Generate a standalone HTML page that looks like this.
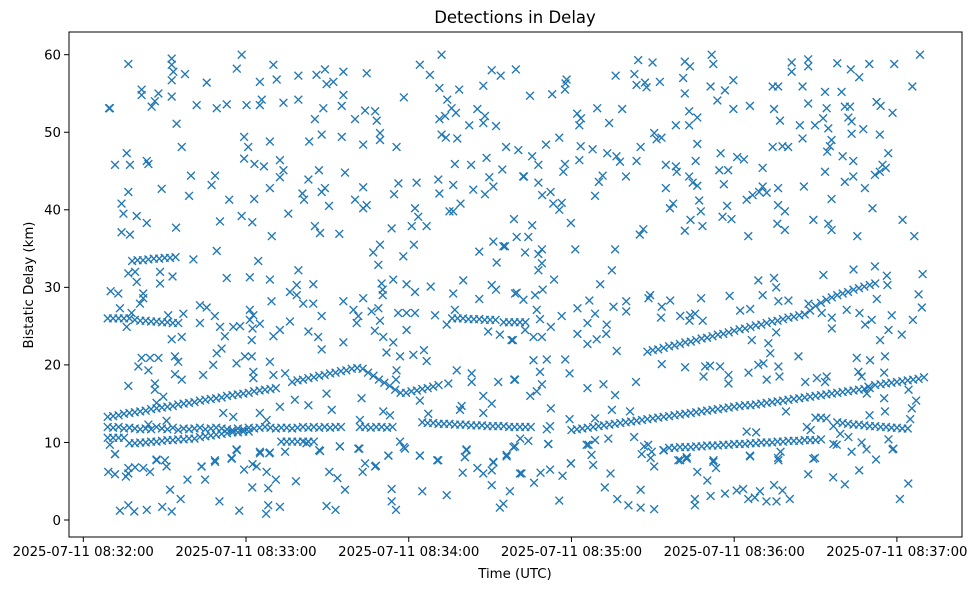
<!DOCTYPE html>
<html><head><meta charset="utf-8">
<style>
html,body{margin:0;padding:0;background:#fff;}
svg{display:block;font-family:"DejaVu Sans","Liberation Sans",sans-serif;}
</style></head>
<body>
<svg id="chart" width="979" height="590" viewBox="0 0 979 590"></svg>
<script>
// time in seconds after 2025-07-11 08:32:00 UTC, delay in km
const xTickSeconds = [0, 60, 120, 180, 240, 300];
const xTickLabels = ["2025-07-11 08:32:00","2025-07-11 08:33:00","2025-07-11 08:34:00","2025-07-11 08:35:00","2025-07-11 08:36:00","2025-07-11 08:37:00"];
const yTicks = [0, 10, 20, 30, 40, 50, 60];

// track A (rising)
const trackA1T = [9,11,13,15,17,19,21,23,25,27,29,31,33,35,37,39,41,43,45,47,49,51,53,55,57,59,61,63,65,67,69,71];
const trackA1D = [13.3,13.4,13.5,13.7,13.8,13.9,14.0,14.1,14.3,14.4,14.5,14.6,14.7,14.9,15.0,15.1,15.2,15.4,15.5,15.6,15.7,15.8,16.0,16.1,16.2,16.3,16.4,16.6,16.7,16.8,16.9,17.0];
const trackA2T = [77,79,81,83,85,87,89,91,93,95,97,99,101];
const trackA2D = [17.8,18.0,18.1,18.3,18.4,18.6,18.7,18.9,19.0,19.2,19.3,19.5,19.6];
const trackA3T = [103,105,107,109,111,113,115,117];
const trackA3D = [19.5,19.0,18.6,18.1,17.7,17.3,16.8,16.4];
const trackA4T = [119,121,123,125,127,129,131];
const trackA4D = [16.4,16.6,16.7,16.9,17.0,17.2,17.4];
// lower main rising track
const trackLT = [180,182,184,186,188,190,192,194,196,198,200,202,204,206,208,210,212,214,216,218,220,222,224,226,228,230,232,234,236,238,240,242,244,246,248,250,252,254,256,258,260,262,264,266,268,270,272,274,276,278,280,282,284,286,288,290,292,294,296,298,300,302,304,306,308,310];
const trackLD = [11.6,11.7,11.8,11.9,12.0,12.1,12.2,12.3,12.4,12.5,12.6,12.7,12.8,12.9,13.0,13.1,13.2,13.3,13.4,13.5,13.6,13.7,13.8,13.9,14.0,14.1,14.2,14.3,14.4,14.5,14.6,14.7,14.8,14.8,14.9,15.0,15.1,15.2,15.3,15.4,15.5,15.6,15.7,15.8,15.9,16.0,16.1,16.2,16.3,16.4,16.5,16.6,16.7,16.8,16.9,17.0,17.4,17.5,17.6,17.7,17.8,17.9,18.0,18.1,18.2,18.4];
// ~12 km tracks
const trackB1T = [9,11,13,15,17,19,21,23,25,27,29,31,33,35,37,39,41,43,45,47,49,51,53,55,57,59,61,63,65,67,69,71,73,75,77,79,81,83,85,87,89,91,93,95];
const trackB1D = [12.0,11.9,12.0,11.8,11.9,11.8,11.7,11.8,11.7,12.0,11.8,11.7,11.9,11.6,11.8,11.7,11.8,11.9,11.7,11.8,11.9,11.8,11.7,11.6,11.8,11.7,11.9,11.8,11.9,12.0,11.9,11.8,11.9,11.9,11.8,11.9,12.0,11.9,12.0,11.9,12.0,11.9,12.0,12.0];
const trackB3T = [102,104,106,108,110,112,114];
const trackB3D = [12.0,12.0,11.9,12.0,12.0,11.9,12.0];
const trackB4T = [125,127,129,131,133,135,137,139,141,143,145,147,149,151,153,155,157,159,161,163,165];
const trackB4D = [12.6,12.5,12.5,12.4,12.4,12.4,12.3,12.3,12.3,12.2,12.2,12.2,12.1,12.1,12.1,12.1,12.0,12.0,12.0,12.0,12.0];
const trackB5T = [270,272,274,278,280,282,284,286,288,290,292,294,296,298,300,302,304];
const trackB5D = [13.2,13.2,13.1,12.6,12.5,12.4,12.3,12.3,12.2,12.1,12.1,12.0,12.0,11.9,11.9,11.8,11.8];
// ~10 km tracks
const trackCT = [9,11,13,15,17,19,21,23,25,27,29,31,33,35,37,39,41,43,45,47,49,51,53,55,57,59,61,73,75,77,79,81,83,85];
const trackCD = [10.6,10.6,10.6,10.6,9.9,9.9,10.0,10.0,10.1,10.1,10.2,10.3,10.3,10.4,10.4,10.5,10.5,10.7,10.8,10.9,11.0,11.1,11.2,11.3,11.3,11.4,11.4,10.1,10.1,10.1,10.1,10.1,10.1,10.1];
const trackDT = [216,218,220,222,224,226,228,230,232,234,236,238,240,242,244,246,248,250,252,254,256,258,260,262,264,266,268,270,272];
const trackDD = [9.3,9.3,9.4,9.4,9.4,9.5,9.5,9.6,9.6,9.6,9.7,9.7,9.8,9.8,9.8,9.9,9.9,10.0,10.0,10.0,10.1,10.1,10.2,10.2,10.2,10.3,10.3,10.3,10.4];
// ~26 and ~33 km tracks
const trackET = [9,11,13,15,17,19,21,23,25,27,29,31,33,35];
const trackED = [26.0,26.0,26.0,26.0,26.0,25.8,25.7,25.7,25.6,25.6,25.5,25.5,25.4,25.4];
const trackFT = [18,20,22,24,26,28,30,32,34];
const trackFD = [33.4,33.5,33.5,33.6,33.7,33.7,33.8,33.8,33.9];
const trackGT = [136,138,140,142,144,146,148,150,152,155,157,159,161,163];
const trackGD = [26.0,26.0,26.0,25.9,25.9,25.9,25.8,25.8,25.8,25.5,25.5,25.5,25.5,25.5];
const trackHT = [208,210,212,214,216,218,220,222,224,226,228,230,232,234,236,238,240,242,244,246,248,250,252,254,256,258,260,262,264,266,268,270,272,274,276,278,280,282,284,286,288,290,292];
const trackHD = [21.7,21.9,22.0,22.2,22.4,22.5,22.7,22.9,23.0,23.2,23.4,23.5,23.7,23.9,24.0,24.2,24.4,24.6,24.7,24.9,25.1,25.2,25.4,25.6,25.7,25.9,26.1,26.2,26.4,26.5,27.0,27.6,28.0,28.4,28.7,29.0,29.2,29.4,29.7,29.9,30.1,30.3,30.5];

// scattered detections
const noiseT = [16.6,32.6,32.6,33.2,37.5,58.4,56.6,70.1,45.5,65.1,71.3,79.3,86.0,89.1,95.9,89.7,92.2,104.5,32.6,21.5,21.5,27.7,32.6,26.4,25.2,9.8,41.8,49.2,52.9,60.2,65.1,65.8,73.8,79.3,88.5,95.3,95.9,85.4,100.2,103.9,107.6,108.2,109.4,109.4,115.5,103.2,95.3,87.9,83.3,68.8,60.8,59.3,34.4,36.3,16.0,11.7,17.2,23.4,24.0,16.6,14.1,14.8,19.7,23.4,14.1,17.2,28.9,34.2,39.7,39.0,48.6,47.3,53.8,50.4,58.4,62.3,63.0,59.3,63.1,66.6,72.5,73.8,72.5,68.8,75.6,69.5,83.0,86.9,80.8,81.4,87.9,89.1,90.6,96.5,103.2,100.2,104.5,103.2,85.4,87.3,94.4,113.7,116.2,114.6,122.9,122.3,123.5,121.1,126.6,130.9,131.3,136.4,135.0,136.4,139.1,143.8,148.1,151.2,149.7,154.5,162.2,158.8,137.0,143.0,148.7,155.9,160.4,132.1,133.7,137.9,131.3,133.4,135.8,137.4,134.2,131.3,138.6,145.3,148.1,147.5,142.3,152.2,147.5,150.6,153.9,159.5,132.1,124.1,127.8,118.2,9.5,
164.7,172.9,177.6,178.2,177.8,182.1,183.5,182.9,189.5,193.9,198.7,196.3,203.2,204.6,209.9,204.0,207.1,207.7,212.6,221.2,221.8,223.7,231.7,232.3,221.8,231.3,236.6,233.8,239.7,239.7,245.8,223.4,226.4,223.4,218.5,210.5,211.4,213.2,205.5,204.0,197.9,196.6,193.2,187.8,183.4,182.9,177.6,177.0,175.5,170.6,165.5,167.8,162.5,167.8,169.2,172.3,173.3,175.5,176.4,165.5,179.8,190.1,191.5,188.7,200.1,214.8,218.5,218.8,225.8,226.4,223.4,224.7,226.4,214.8,217.5,216.3,227.1,227.7,223.9,228.3,221.8,206.5,205.2,235.0,234.5,237.8,236.2,237.4,235.7,239.0,241.1,243.6,244.6,246.8,249.2,250.5,252.0,250.5,256.2,256.2,258.7,255.9,258.7,245.2,254.2,257.8,259.9,265.2,264.2,269.8,272.8,274.7,256.9,254.7,267.3,274.1,280.8,282.7,282.1,283.3,283.3,287.6,293.7,275.9,275.3,274.3,280.0,283.9,296.8,294.7,295.9,291.9,293.7,283.9,280.8,288.2,273.5,265.7,275.9,291.0,302.1,269.2,274.7,275.9,285.4,306.4,254.2,256.2,265.2,273.5,279.6,261.2,261.2,267.3,267.3,278.0,283.0,286.1,289.8,299.0,308.5,305.7,292.5,294.0,298.4,
11.7,9.2,11.7,15.7,16.6,19.1,22.1,24.6,27.0,30.1,30.7,32.0,35.9,38.4,43.6,44.9,48.6,50.2,54.7,56.6,59.3,62.4,63.9,67.6,65.2,68.6,71.0,62.3,68.2,68.2,67.4,72.5,57.5,13.5,16.6,18.8,23.4,29.1,32.6,78.4,87.0,94.6,101.8,90.7,93.7,96.5,89.7,93.0,103.9,103.0,107.9,112.5,118.2,124.1,130.5,141.3,140.7,139.9,145.3,147.5,150.6,151.2,150.6,156.1,158.6,161.0,157.3,154.9,153.6,113.7,113.7,115.3,125.0,134.0,
171.4,161.6,166.2,168.6,172.1,176.7,179.8,175.5,185.6,187.4,188.0,194.4,192.3,196.9,201.0,205.5,205.5,210.5,205.9,208.3,209.2,210.5,214.1,219.4,222.5,226.4,230.1,232.3,233.3,225.5,225.5,231.3,236.6,240.9,243.3,245.2,247.6,249.5,251.9,255.6,254.7,257.8,260.5,245.8,256.2,257.1,269.8,267.3,276.5,280.8,286.1,283.3,288.8,292.3,298.4,277.8,304.2,301.1,
40.6,49.2,64.5,52.9,61.4,68.8,16.6,19.1,19.7,28.3,28.3,32.9,10.1,12.9,22.1,22.1,20.9,13.5,16.0,17.8,31.3,36.9,32.6,36.3,43.0,45.5,43.0,48.5,50.4,52.2,55.3,57.8,61.4,62.7,61.4,62.4,65.1,62.1,70.1,72.5,76.2,69.4,76.2,78.7,79.3,84.8,78.7,81.1,84.8,87.9,83.0,86.6,87.9,95.9,95.9,99.6,101.4,103.2,100.8,106.3,108.8,109.4,107.5,110.6,114.3,116.1,106.9,109.4,108.8,110.0,110.4,110.4,114.3,118.0,119.2,122.3,121.9,128.1,136.4,140.1,146.0,146.0,151.2,154.9,152.4,150.6,152.2,159.2,119.2,134.0,137.0,149.3,153.6,157.9,20.3,21.5,24.6,27.7,24.0,16.6,26.4,26.4,29.5,27.0,33.8,35.0,33.8,36.3,44.2,49.2,47.9,51.0,56.5,59.6,62.1,62.7,62.7,68.8,70.1,74.4,89.7,78.0,83.0,91.6,102.6,111.8,116.8,121.7,125.6,126.6,115.5,115.3,124.1,127.2,134.6,137.7,143.2,143.2,153.0,159.2,147.5,150.6,139.5,138.9,147.5,151.2,156.1,141.3,140.7,130.9,124.1,116.8,118.6,112.5,107.6,101.4,94.6,87.3,82.3,74.4,68.8,65.1,56.5,54.7,48.5,43.6,27.0,16.6,11.7,9.8,24.0,30.7,51.6,55.3,65.1,67.6,72.5,102.0,110.6,113.1,119.2,122.3,129.7,
155.5,162.9,159.8,164.1,167.8,169.1,167.8,169.1,173.6,181.4,196.1,194.9,190.6,159.8,162.3,166.6,169.4,167.2,168.4,172.4,176.4,182.2,186.6,188.7,185.9,182.2,185.9,189.3,192.8,193.0,195.5,200.2,200.2,196.7,158.4,162.9,166.0,169.1,166.0,170.9,168.4,158.9,177.7,179.3,169.1,164.8,167.2,172.4,185.9,191.8,196.1,203.8,194.9,201.6,179.3,188.7,172.1,170.9,161.1,164.1,159.2,171.5,179.8,186.3,188.7,193.6,203.1,208.4,209.0,213.3,213.0,216.4,220.1,223.8,225.6,223.5,228.4,227.8,213.3,221.9,228.7,229.3,231.1,234.8,237.9,237.9,245.3,248.9,250.8,252.0,256.3,256.7,253.3,252.6,255.5,246.5,242.2,245.9,238.3,248.9,250.5,254.7,255.5,256.3,260.0,263.7,266.2,270.5,274.1,273.5,267.4,272.9,272.3,276.0,276.0,281.5,286.2,288.3,290.7,293.8,296.9,298.1,301.8,305.9,309.2,308.0,309.5,296.3,296.5,291.9,284.0,292.6,285.2,285.8,287.0,290.1,295.6,295.3,295.3,295.6,289.5,288.9,304.3,307.1,305.5,304.9,289.9,276.6,279.1,276.6,282.1,287.0,296.9,298.7,269.2,256.3,245.9,232.4,222.5,220.1,209.6,206.8,213.9,259.1,266.8,268.2,244.6,248.1];
const noiseD = [58.8,59.5,58.7,57.8,57.5,60.0,58.2,58.7,56.4,56.5,56.8,57.3,57.4,58.1,57.8,56.2,56.5,57.6,56.7,55.5,54.8,55.0,54.6,54.0,53.3,53.1,53.5,53.1,53.6,53.5,53.5,54.2,53.8,54.2,53.1,53.4,54.8,51.7,51.7,52.8,52.7,51.5,49.9,49.0,48.1,48.4,49.4,49.7,48.8,48.8,48.1,49.4,51.1,48.1,47.3,45.8,45.8,46.3,45.9,42.3,40.8,39.5,39.2,38.3,37.1,36.8,42.7,37.7,44.4,41.8,44.4,43.2,41.3,38.5,39.2,38.4,41.4,46.6,45.9,45.6,46.4,45.1,44.2,42.8,39.5,36.6,43.9,45.1,42.1,41.3,42.3,42.8,40.5,44.8,42.9,41.3,40.6,40.2,37.9,37.0,36.9,37.6,43.4,42.0,43.5,40.2,39.1,37.9,37.9,43.9,42.1,43.2,39.8,39.8,40.8,42.6,42.0,43.0,44.2,45.2,44.3,38.8,45.9,45.8,46.7,48.1,47.7,49.7,49.3,49.2,51.7,52.1,53.1,52.5,54.2,55.7,55.5,53.0,52.1,51.2,50.9,50.8,56.0,58.0,57.3,58.1,60.0,58.7,57.4,54.5,53.1,
54.7,54.9,55.5,56.8,56.3,52.4,51.8,50.9,53.1,51.2,53.0,57.3,57.5,59.3,59.0,56.1,56.4,55.8,56.5,57.0,59.1,58.5,60.0,58.8,55.0,55.9,55.4,54.1,56.7,53.0,53.4,52.7,51.9,50.9,50.9,49.9,49.1,49.3,48.1,46.3,46.2,46.9,47.3,47.8,48.2,46.4,45.9,44.9,49.3,48.4,46.9,45.8,44.3,43.5,41.9,42.3,40.8,40.0,40.9,38.0,38.3,43.6,44.4,41.8,44.3,45.8,45.6,44.9,46.3,48.5,44.3,43.5,43.1,42.8,40.8,40.2,41.2,39.8,38.7,37.9,37.3,37.5,36.8,47.3,45.1,45.1,43.3,40.5,39.1,38.8,46.8,46.5,41.3,41.9,42.3,43.0,42.2,45.4,42.8,40.6,39.8,38.2,37.4,36.6,48.1,48.2,48.1,49.2,50.9,50.9,51.8,50.5,51.5,53.0,53.7,53.1,53.3,53.3,51.9,51.4,49.8,50.4,49.7,49.0,48.2,47.5,46.9,46.3,47.3,45.8,45.4,44.5,44.9,44.3,43.6,42.8,44.9,43.0,41.4,40.2,38.7,38.7,38.2,37.4,36.6,36.6,55.9,55.9,55.9,55.2,55.2,59.0,57.8,59.4,58.5,58.9,58.1,57.1,58.8,58.8,60.0,55.9,53.9,53.4,52.5,
8.5,6.2,5.9,5.6,6.0,6.8,6.7,6.2,7.7,7.7,6.9,3.9,2.7,5.2,6.9,5.2,7.5,2.4,8.0,9.0,6.5,7.2,6.9,6.2,8.6,8.6,5.2,4.2,4.1,1.9,0.8,1.7,1.2,1.2,1.9,1.1,1.3,1.7,1.1,5.0,9.0,9.5,9.2,6.2,5.4,3.9,1.8,1.3,7.3,6.2,7.0,8.3,9.4,8.3,7.7,9.1,8.1,6.1,6.7,6.0,6.4,7.4,4.5,8.4,9.4,6.0,3.7,2.1,1.6,4.0,2.4,1.3,3.7,3.2,
9.8,6.0,4.8,6.1,6.5,5.7,7.3,2.5,9.7,8.4,7.1,6.0,4.2,2.7,1.9,3.9,1.6,1.4,8.5,9.7,8.0,6.9,9.0,7.7,8.1,6.2,5.1,7.5,6.7,2.7,1.9,3.1,3.4,3.8,4.0,2.7,2.9,3.7,2.4,2.4,4.5,3.8,2.7,8.3,8.0,8.8,8.0,5.9,5.5,4.6,6.4,8.8,9.1,7.8,9.1,9.7,4.7,2.7,
33.6,34.7,33.4,31.2,31.3,31.0,31.8,32.0,30.7,32.0,30.5,31.4,29.5,29.2,29.2,28.6,27.9,27.3,24.9,26.7,26.4,26.6,23.3,23.6,27.7,27.4,25.4,26.3,24.9,23.7,24.9,25.0,27.1,26.4,25.8,24.7,25.3,23.2,23.7,24.5,25.6,28.2,29.4,30.3,32.2,30.4,29.0,27.9,27.9,26.3,24.3,23.6,22.0,22.9,28.2,27.1,26.3,28.6,25.4,26.9,27.3,25.7,24.4,23.6,22.9,26.7,34.5,35.5,32.9,30.5,29.7,29.0,31.0,34.0,30.4,29.4,35.5,30.1,29.2,30.9,34.6,28.5,35.9,35.3,33.2,30.3,29.7,29.2,24.5,25.2,27.1,24.3,23.9,23.2,19.8,20.9,20.9,20.9,19.3,17.3,17.6,16.8,15.9,15.1,21.1,20.4,18.8,18.1,18.7,21.5,20.0,22.1,20.2,21.1,21.1,19.1,18.3,20.4,18.7,18.9,16.3,15.5,14.8,14.2,15.7,21.6,21.1,21.3,21.9,20.5,19.3,18.1,15.4,13.7,17.6,19.3,18.9,17.8,17.8,18.1,16.0,15.0,14.7,14.2,13.8,7.5,8.2,9.0,8.1,7.7,8.3,10.1,9.2,8.3,6.9,9.2,9.5,8.9,9.9,8.8,8.7,8.8,9.1,7.9,7.7,6.9,7.8,6.7,8.5,9.7,12.3,12.8,13.8,13.3,13.8,12.9,14.6,12.9,14.0,13.5,26.7,26.7,26.4,
35.3,34.5,36.5,36.5,34.3,33.1,32.2,34.9,31.0,34.9,34.9,32.2,30.4,29.3,28.4,29.0,29.7,27.1,25.9,24.9,26.3,27.3,28.3,26.6,25.4,24.0,22.7,23.3,24.0,25.2,27.5,28.2,26.9,21.8,23.2,24.5,23.6,23.6,20.6,20.7,19.1,18.1,20.7,18.9,17.5,16.0,16.6,14.4,17.0,17.5,16.1,17.8,14.2,14.0,13.0,13.1,12.1,11.7,10.5,10.2,9.5,9.8,7.3,9.7,10.3,10.5,10.7,28.6,29.0,27.5,26.1,28.3,26.3,26.4,26.6,25.7,25.7,28.6,20.1,19.7,18.5,19.8,19.9,19.8,18.7,17.6,19.0,20.0,20.2,18.1,19.8,18.5,21.5,22.8,24.2,23.2,27.0,27.2,28.9,30.9,29.0,31.2,30.0,28.2,28.3,21.1,17.8,18.3,18.5,17.8,27.9,31.6,26.7,26.1,24.7,27.1,26.7,25.2,25.8,23.2,24.5,26.4,23.9,25.8,27.4,29.1,31.7,31.5,30.3,32.7,32.3,28.5,20.9,19.1,18.5,20.6,21.1,19.0,15.7,14.0,17.2,16.3,16.8,15.4,14.4,13.0,13.5,12.1,11.1,9.8,10.7,10.0,10.4,9.2,7.9,7.7,8.2,7.7,7.9,7.7,8.8,9.5,9.0,14.0,12.0,11.6,11.4,11.3];

const NS = "http://www.w3.org/2000/svg";
const svg = document.getElementById("chart");
const plot = {left: 69, right: 962, top: 32, bottom: 537};
function xScale(t) { return 83.3 + t * 2.712; }
function yScale(d) { return 520 - d * 7.755; }
function mk(tag, attrs, parent) {
  const el = document.createElementNS(NS, tag);
  for (const k in attrs) el.setAttribute(k, attrs[k]);
  (parent || svg).appendChild(el);
  return el;
}

const title = mk("text", {x: 515, y: 23, "text-anchor": "middle", "font-size": "16.5", fill: "#000"});
title.textContent = "Detections in Delay";



const marks = mk("g", {stroke: "#1f77b4", "stroke-width": "1.35", fill: "none"});



function drawSeries(ts, ds, name) {
  for (let i = 0; i < ts.length && i < ds.length; i++) {
    const cx = xScale(ts[i]), cy = yScale(ds[i]), r = 3.9;
    const p = mk("path", {d: `M${(cx-r).toFixed(2)},${(cy-r).toFixed(2)}L${(cx+r).toFixed(2)},${(cy+r).toFixed(2)}M${(cx-r).toFixed(2)},${(cy+r).toFixed(2)}L${(cx+r).toFixed(2)},${(cy-r).toFixed(2)}`}, marks);
    
    
  }
}
drawSeries(noiseT, noiseD, 'detection-point');
drawSeries(trackA1T, trackA1D, 'track-point');
drawSeries(trackA2T, trackA2D, 'track-point');
drawSeries(trackA3T, trackA3D, 'track-point');
drawSeries(trackA4T, trackA4D, 'track-point');
drawSeries(trackLT, trackLD, 'track-point');
drawSeries(trackB1T, trackB1D, 'track-point');
drawSeries(trackB3T, trackB3D, 'track-point');
drawSeries(trackB4T, trackB4D, 'track-point');
drawSeries(trackB5T, trackB5D, 'track-point');
drawSeries(trackCT, trackCD, 'track-point');
drawSeries(trackDT, trackDD, 'track-point');
drawSeries(trackET, trackED, 'track-point');
drawSeries(trackFT, trackFD, 'track-point');
drawSeries(trackGT, trackGD, 'track-point');
drawSeries(trackHT, trackHD, 'track-point');

const frame = mk("rect", {x: plot.left, y: plot.top, width: plot.right - plot.left, height: plot.bottom - plot.top, fill: "none", stroke: "#000", "stroke-width": "1"});



const xAxis = mk("g", {});


xTickSeconds.forEach((s, i) => {
  const x = xScale(s);
  const tk = mk("line", {x1: x, x2: x, y1: plot.bottom, y2: plot.bottom + 5, stroke: "#000", "stroke-width": "1"}, xAxis);
  
  
  const lb = mk("text", {x: x, y: plot.bottom + 19, "text-anchor": "middle", "font-size": "13.3", fill: "#000"}, xAxis);
  lb.textContent = xTickLabels[i];
  
  
});
const xTitle = mk("text", {x: 515, y: 578, "text-anchor": "middle", "font-size": "13.3", fill: "#000"});
xTitle.textContent = "Time (UTC)";



const yAxis = mk("g", {});


yTicks.forEach(v => {
  const y = yScale(v);
  const tk = mk("line", {x1: plot.left - 5, x2: plot.left, y1: y, y2: y, stroke: "#000", "stroke-width": "1"}, yAxis);
  
  
  const lb = mk("text", {x: plot.left - 8, y: y + 4.8, "text-anchor": "end", "font-size": "13.3", fill: "#000"}, yAxis);
  lb.textContent = String(v);
  
  
});
const yTitle = mk("text", {x: 0, y: 0, "text-anchor": "middle", "font-size": "13.3", fill: "#000", transform: "translate(33,285) rotate(-90)"});
yTitle.textContent = "Bistatic Delay (km)";


</script>
</body></html>
